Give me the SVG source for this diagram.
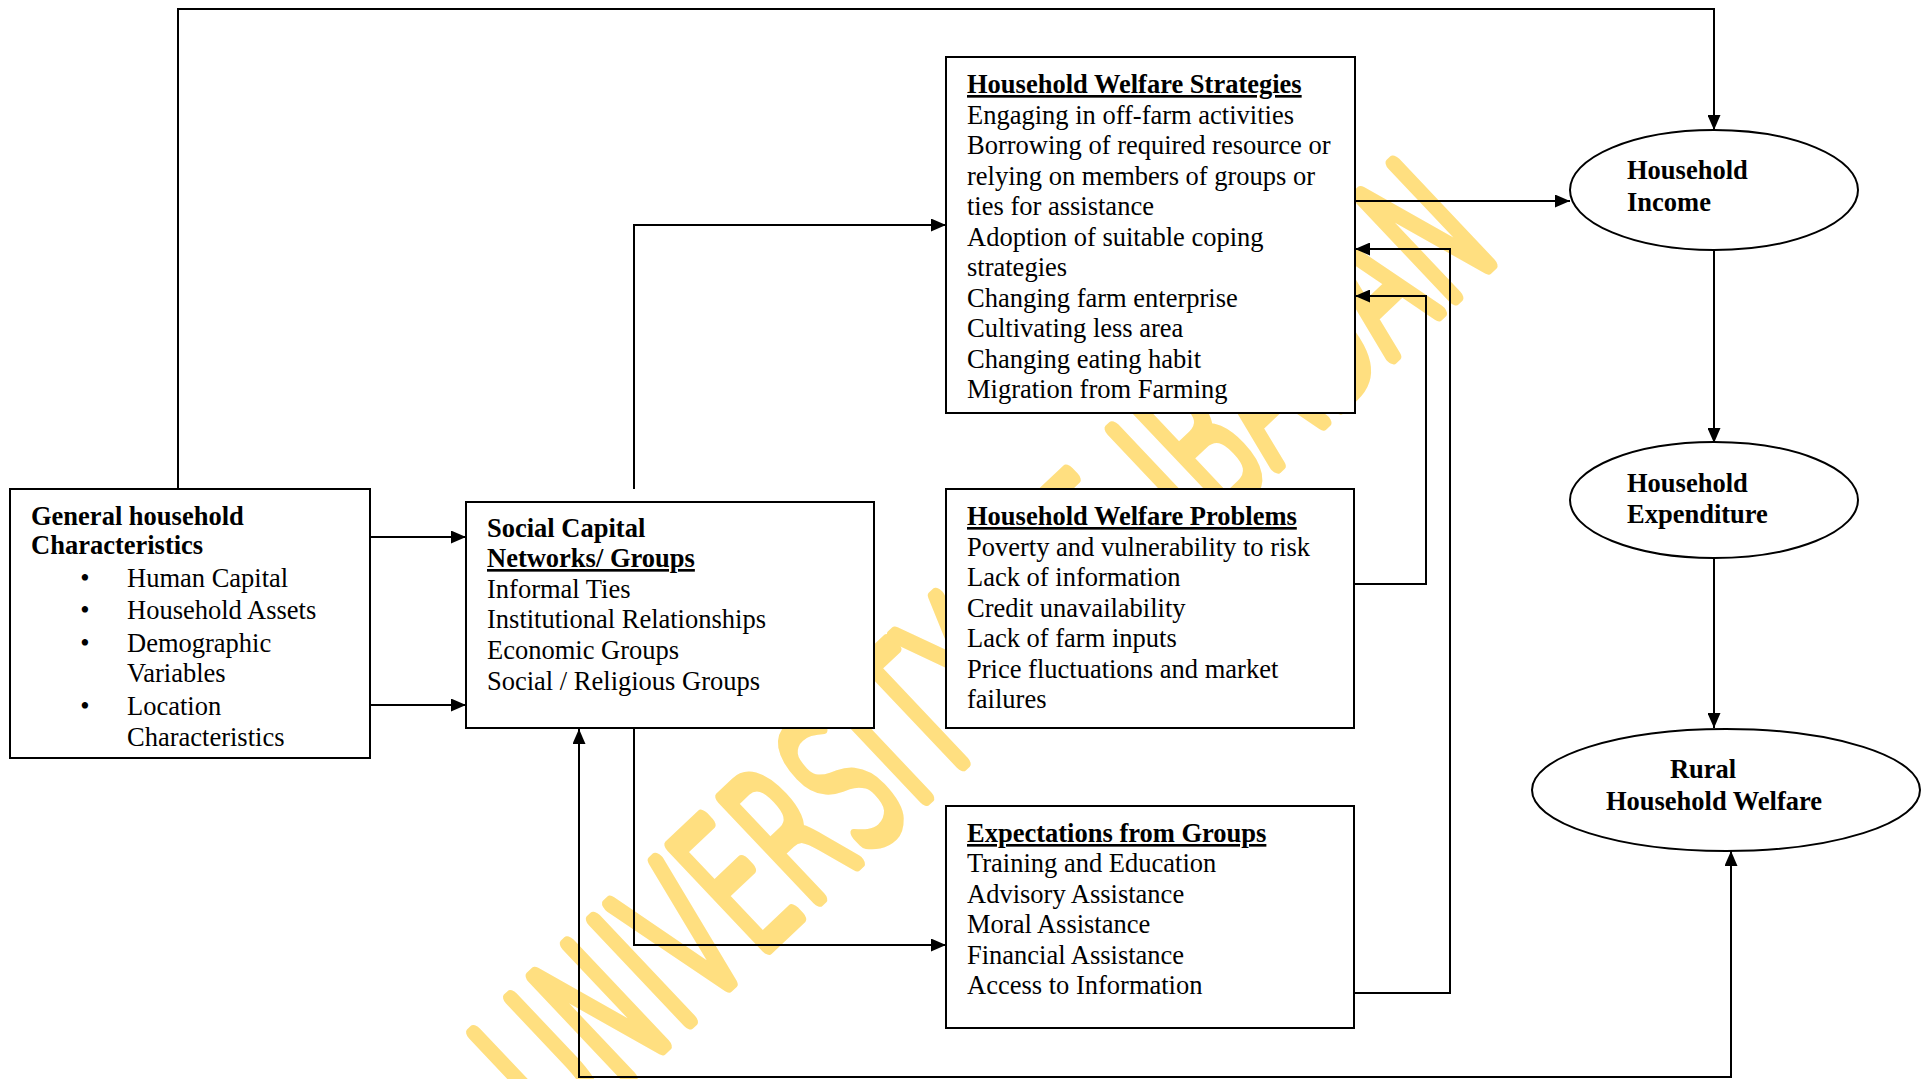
<svg xmlns="http://www.w3.org/2000/svg" width="1922" height="1079" viewBox="0 0 1922 1079">
<defs>
<style>
.box{fill:#fff;stroke:#000;stroke-width:2}
.t{font-family:"Liberation Serif","Times New Roman",serif;font-size:26.5px;fill:#000}
.b{font-weight:bold}
.u{text-decoration:underline}
.c{fill:none;stroke:#000;stroke-width:2}
.wm{font-family:"DejaVu Sans",sans-serif;font-weight:200;font-size:190px;fill:#FFDF80;stroke:#FFDF80;stroke-width:16;stroke-linejoin:round;stroke-linecap:round}
</style>
<marker id="ah" viewBox="0 0 15 13" refX="15" refY="6.5" markerWidth="15" markerHeight="13" markerUnits="userSpaceOnUse" orient="auto-start-reverse">
<path d="M0,0 L15,6.5 L0,13 z" fill="#000"/>
</marker>
</defs>
<rect width="1922" height="1079" fill="#fff"/>
<g id="watermark">
<text class="wm" transform="translate(512,1095) rotate(-43.4)" x="0" y="68" textLength="1300" lengthAdjust="spacingAndGlyphs">UNIVERSITY OF IBADAN</text>
</g>
<g id="connectors">
<path class="c" d="M370,537 H466" marker-end="url(#ah)"/>
<path class="c" d="M370,705 H466" marker-end="url(#ah)"/>
<path class="c" d="M178,489 V9 H1714 V130" marker-end="url(#ah)"/>
<path class="c" d="M634,489 V225 H946" marker-end="url(#ah)"/>
<path class="c" d="M634,728 V945 H946" marker-end="url(#ah)"/>
<path class="c" d="M1355,201 H1570" marker-end="url(#ah)"/>
<path class="c" d="M1354,584 H1426 V296 H1355" marker-end="url(#ah)"/>
<path class="c" d="M1354,993 H1450 V249 H1355" marker-end="url(#ah)"/>
<path class="c" d="M1714,249 V443" marker-end="url(#ah)"/>
<path class="c" d="M1714,558 V728" marker-end="url(#ah)"/>
<path class="c" d="M579,729 V1077 H1731 V851" marker-start="url(#ah)" marker-end="url(#ah)"/>
</g>
<g id="general">
<rect class="box" x="10" y="489" width="360" height="269"/>
<text class="t b" x="31" y="525">General household</text>
<text class="t b" x="31" y="554">Characteristics</text>
<text class="t" x="85" y="587" text-anchor="middle">•</text>
<text class="t" x="127" y="587">Human Capital</text>
<text class="t" x="85" y="619" text-anchor="middle">•</text>
<text class="t" x="127" y="619">Household Assets</text>
<text class="t" x="85" y="652" text-anchor="middle">•</text>
<text class="t" x="127" y="652">Demographic</text>
<text class="t" x="127" y="682">Variables</text>
<text class="t" x="85" y="715" text-anchor="middle">•</text>
<text class="t" x="127" y="715">Location</text>
<text class="t" x="127" y="746">Characteristics</text>
</g>
<g id="social">
<rect class="box" x="466" y="502" width="408" height="226"/>
<text class="t b" x="487" y="537">Social Capital</text>
<text class="t b u" x="487" y="567">Networks/ Groups</text>
<text class="t" x="487" y="598">Informal Ties</text>
<text class="t" x="487" y="628">Institutional Relationships</text>
<text class="t" x="487" y="659">Economic Groups</text>
<text class="t" x="487" y="690">Social / Religious Groups</text>
</g>
<g id="strategies">
<rect class="box" x="946" y="57" width="409" height="356"/>
<text class="t b u" x="967" y="93">Household Welfare Strategies</text>
<text class="t" x="967" y="123.5">Engaging in off-farm activities</text>
<text class="t" x="967" y="154">Borrowing of required resource or</text>
<text class="t" x="967" y="184.5">relying on members of groups or</text>
<text class="t" x="967" y="215">ties for assistance</text>
<text class="t" x="967" y="245.5">Adoption of suitable coping</text>
<text class="t" x="967" y="276">strategies</text>
<text class="t" x="967" y="306.5">Changing farm enterprise</text>
<text class="t" x="967" y="337">Cultivating less area</text>
<text class="t" x="967" y="367.5">Changing eating habit</text>
<text class="t" x="967" y="398">Migration from Farming</text>
</g>
<g id="problems">
<rect class="box" x="946" y="489" width="408" height="239"/>
<text class="t b u" x="967" y="525">Household Welfare Problems</text>
<text class="t" x="967" y="555.5">Poverty and vulnerability to risk</text>
<text class="t" x="967" y="586">Lack of information</text>
<text class="t" x="967" y="616.5">Credit unavailability</text>
<text class="t" x="967" y="647">Lack of farm inputs</text>
<text class="t" x="967" y="677.5">Price fluctuations and market</text>
<text class="t" x="967" y="708">failures</text>
</g>
<g id="expectations">
<rect class="box" x="946" y="806" width="408" height="222"/>
<text class="t b u" x="967" y="842">Expectations from Groups</text>
<text class="t" x="967" y="872.4">Training and Education</text>
<text class="t" x="967" y="902.8">Advisory Assistance</text>
<text class="t" x="967" y="933.2">Moral Assistance</text>
<text class="t" x="967" y="963.6">Financial Assistance</text>
<text class="t" x="967" y="994">Access to Information</text>
</g>
<g id="income">
<ellipse class="box" cx="1714" cy="190" rx="144" ry="60"/>
<text class="t b" x="1627" y="179">Household</text>
<text class="t b" x="1627" y="211">Income</text>
</g>
<g id="expenditure">
<ellipse class="box" cx="1714" cy="500" rx="144" ry="58"/>
<text class="t b" x="1627" y="492">Household</text>
<text class="t b" x="1627" y="523">Expenditure</text>
</g>
<g id="rural">
<ellipse class="box" cx="1726" cy="790" rx="194" ry="61"/>
<text class="t b" x="1703" y="778" text-anchor="middle">Rural</text>
<text class="t b" x="1714" y="810" text-anchor="middle">Household Welfare</text>
</g>
</svg>
